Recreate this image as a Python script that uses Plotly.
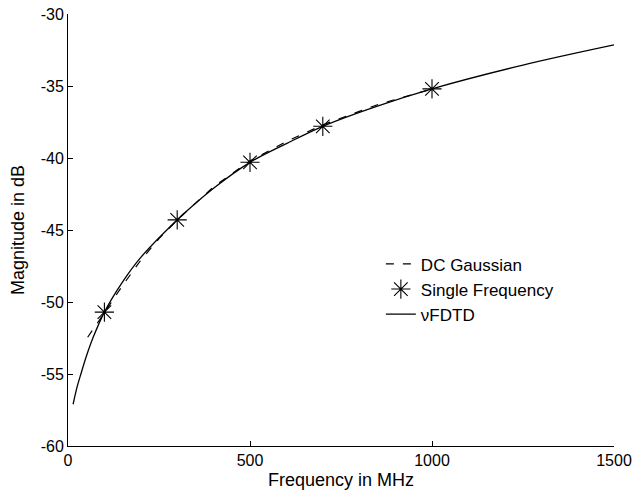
import plotly.graph_objects as go

# vFDTD (solid)
fdtd_f = [14, 25, 36, 50, 70, 100, 150, 200, 300, 400, 500, 600, 700, 850, 1000, 1250, 1500]
fdtd_db = [-57.1, -55.9, -54.95, -53.8, -52.4, -50.7, -48.6, -46.9, -44.3, -42.1, -40.3, -39.0, -37.8, -36.4, -35.2, -33.55, -32.15]

# DC Gaussian (dashed)
dc_f = [54, 75, 100, 150, 200, 250, 300, 400, 500, 600, 700, 850, 1000]
dc_db = [-52.45, -51.7, -50.75, -48.85, -47.1, -45.6, -44.3, -42.0, -40.2, -38.85, -37.7, -36.3, -35.2]

# Single frequency (stars)
sf_f = [100, 300, 500, 700, 1000]
sf_db = [-50.7, -44.3, -40.3, -37.8, -35.2]

xticks = [0, 500, 1000, 1500]
xticktext = ["0", "500", "1000", "1500"]
yticks = [-60, -55, -50, -45, -40, -35, -30]
yticktext = ["-60", "-55", "-50", "-45", "-40", "-35", "-30"]

font = "Liberation Sans, Arial, Helvetica, sans-serif"

fig = go.Figure()
fig.add_trace(go.Scatter(x=dc_f, y=dc_db, mode="lines", name="DC Gaussian",
                         line=dict(color="black", width=1.2, dash="8px,9px")))
fig.add_trace(go.Scatter(x=sf_f, y=sf_db, mode="markers", name="Single Frequency",
                         marker=dict(symbol="asterisk-open", size=16, color="black",
                                     line=dict(color="black", width=1.1))))
fig.add_trace(go.Scatter(x=fdtd_f, y=fdtd_db, mode="lines", name="νFDTD",
                         line=dict(color="black", width=1.3), line_shape="spline"))

axis_common = dict(showline=True, linecolor="black", linewidth=1, ticks="inside",
                   ticklen=5, tickcolor="black", showgrid=False, zeroline=False,
                   tickfont=dict(size=16, color="black", family=font), mirror=False,
                   automargin=False, ticklabeloverflow="allow")

fig.update_layout(
    width=633, height=493,
    margin=dict(l=68, r=19, t=14, b=47),
    paper_bgcolor="white", plot_bgcolor="white",
    font=dict(family=font, size=16, color="black"),
    xaxis=dict(range=[0, 1500], tickvals=xticks, ticktext=xticktext,
               title=dict(text="Frequency in MHz", font=dict(size=18), standoff=5),
               **axis_common),
    yaxis=dict(range=[-60, -30], tickvals=yticks, ticktext=yticktext,
               title=dict(text="Magnitude in dB", font=dict(size=18), standoff=11),
               **axis_common),
    legend=dict(x=0.573, y=0.462, xanchor="left", yanchor="top",
                bgcolor="rgba(0,0,0,0)", font=dict(size=17), tracegroupgap=0),
    showlegend=True,
)

# remove the default 8px page margin so the figure fills the window exactly
fig.write_html("out.html",
               config={"displayModeBar": False},
               post_script="document.body.style.margin='0px';document.body.style.overflow='hidden';")
